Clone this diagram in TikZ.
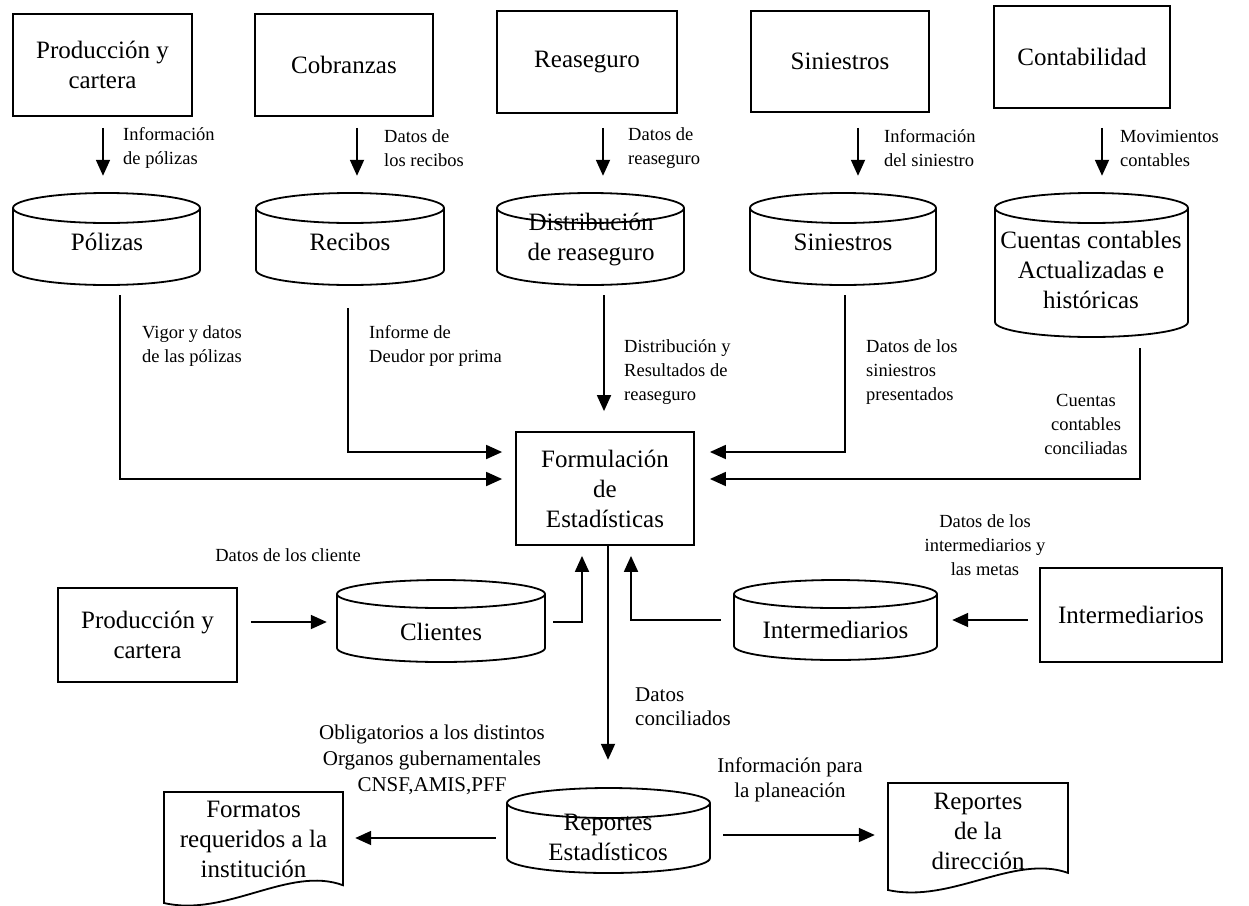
\documentclass[tikz,border=0pt]{standalone}
\usepackage{fontspec}
\setmainfont{Liberation Serif}
\usetikzlibrary{arrows.meta}

% drum (database) symbol: #1 name, #2 left x, #3 right x, #4 top y, #5 bottom y, #6 ellipse half-height
\newcommand\drum[6]{%
  \pgfmathsetmacro\dcx{(#2+#3)/2}%
  \pgfmathsetmacro\drx{(#3-#2)/2}%
  \pgfmathsetmacro\dwd{#3-#2}%
  \pgfmathsetmacro\dht{#5-#4}%
  \pgfmathsetmacro\dmy{(#4+#5)/2}%
  \draw[outline] (\dcx,#4+#6) ellipse [x radius=\drx pt, y radius=#6 pt];
  \draw[outline] (#2,#4+#6) -- (#2,#5-#6)
    arc[start angle=180, end angle=360, x radius=\drx pt, y radius=#6 pt] -- (#3,#4+#6);
  \node[inner sep=0pt, minimum width=\dwd pt, minimum height=\dht pt] (#1) at (\dcx,\dmy) {};
}

% printed-report symbol with a wavy lower edge: #1 name, #2 left x, #3 top y, #4 right x, #5 bottom y
\newcommand\report[5]{%
  \pgfmathsetmacro\rwd{#4-#2}%
  \pgfmathsetmacro\rht{#5-#3}%
  \pgfmathsetmacro\rmx{(#2+#4)/2}%
  \pgfmathsetmacro\rmy{(#3+#5)/2}%
  \draw[outline] (#2,#5) -- (#2,#3) -- (#4,#3) -- (#4,#5-0.16*\rht)
    .. controls (#4-0.3*\rwd,#5-0.34*\rht) and (#2+0.35*\rwd,#5+0.13*\rht) .. (#2,#5) -- cycle;
  \node[inner sep=0pt, minimum width=\rwd pt, minimum height=\rht pt] (#1) at (\rmx,\rmy) {};
}

\begin{document}
\begin{tikzpicture}[x=1pt, y=-1pt,
  outline/.style={line width=1.8pt, black, line join=miter},
  procbox/.style={draw, line width=1.8pt, inner sep=0pt, align=center,
    font=\fontsize{25}{30}\selectfont},
  boxtxt/.style={inner sep=0pt, align=center, font=\fontsize{25}{30}\selectfont},
  lbl/.style={inner sep=0pt, align=left, anchor=west, font=\fontsize{18.5}{24}\selectfont},
  lblc/.style={inner sep=0pt, align=center, font=\fontsize{18.5}{24}\selectfont},
  lblb/.style={inner sep=0pt, align=center, font=\fontsize{21}{26}\selectfont},
  lblbl/.style={inner sep=0pt, align=left, anchor=west, font=\fontsize{21}{24}\selectfont},
  flow/.style={line width=1.8pt, -{Triangle[length=16pt, width=14pt]}},
]
\useasboundingbox (0,0) rectangle (1249,905);

% ---- source departments ----
\node[procbox, minimum width=179pt, minimum height=102pt] (b1) at (102.5,65) {Producción y\\cartera};
\node[procbox, minimum width=178pt, minimum height=102pt] (b2) at (344,65) {Cobranzas};
\node[procbox, minimum width=180pt, minimum height=102pt] (b3) at (587,62) {Reaseguro};
\node[procbox, minimum width=178pt, minimum height=101pt] (b4) at (840,61.5) {Siniestros};
\node[procbox, minimum width=176pt, minimum height=102pt] (b5) at (1082,57) {Contabilidad};

% ---- data stores ----
\drum{c1}{13}{200}{193}{285}{15}
\drum{c2}{256}{444}{193}{285}{15}
\drum{c3}{497}{684}{193}{285}{15}
\drum{c4}{750}{936}{193}{285}{15}
\drum{c5}{995}{1188}{193}{337}{15}
\node[boxtxt] (t1) at (107,242) {Pólizas};
\node[boxtxt] (t2) at (350,242) {Recibos};
\node[boxtxt] (t3) at (591,240) {Distribución\\de reaseguro};
\node[boxtxt] (t4) at (843,242) {Siniestros};
\node[boxtxt] (t5) at (1091,270) {Cuentas contables\\Actualizadas e\\históricas};

% ---- department to store ----
\draw[flow] ([xshift=0.5pt, yshift=-11pt]b1.south) coordinate (a1) -- ([yshift=17pt]c1.north -| a1);
\draw[flow] ([xshift=13pt, yshift=-11pt]b2.south) coordinate (a2) -- ([yshift=17pt]c2.north -| a2);
\draw[flow] ([xshift=16pt, yshift=-14pt]b3.south) coordinate (a3) -- ([yshift=17pt]c3.north -| a3);
\draw[flow] ([xshift=18pt, yshift=-15pt]b4.south) coordinate (a4) -- ([yshift=17pt]c4.north -| a4);
\draw[flow] ([xshift=20pt, yshift=-19pt]b5.south) coordinate (a5) -- ([yshift=17pt]c5.north -| a5);
\node[lbl] (l1) at (123,148) {Información\\de pólizas};
\node[lbl] (l2) at (384,148) {Datos de\\los recibos};
\node[lbl] (l3) at (628,148) {Datos de\\reaseguro};
\node[lbl] (l4) at (884,148) {Información\\del siniestro};
\node[lbl] (l5) at (1120,148) {Movimientos\\contables};

% ---- central process ----
\node[procbox, minimum width=178pt, minimum height=113pt] (F) at (605,488.5) {Formulación\\de\\Estadísticas};

% ---- stores to process ----
\draw[flow] ([xshift=13.5pt, yshift=-10pt]c1.south) |- ([xshift=-13pt, yshift=9.5pt]F.west);
\draw[flow] ([xshift=-2pt, yshift=-23pt]c2.south) |- ([xshift=-13pt, yshift=36.5pt]F.west);
\draw[flow] ([xshift=13.5pt, yshift=-10pt]c3.south) coordinate (c3o) -- ([yshift=20pt]F.north -| c3o);
\draw[flow] ([xshift=2pt, yshift=-10pt]c4.south) |- ([xshift=15pt, yshift=36.5pt]F.east);
\draw[flow] ([xshift=48.5pt, yshift=-11pt]c5.south) |- ([xshift=15pt, yshift=9.5pt]F.east);
\node[lbl] (l6) at (142,346) {Vigor y datos\\de las pólizas};
\node[lbl] (l7) at (369,346) {Informe de\\Deudor por prima};
\node[lbl] (l8) at (624,372) {Distribución y\\Resultados de\\reaseguro};
\node[lbl] (l9) at (866,372) {Datos de los\\siniestros\\presentados};
\node[lblc] (l10) at (1086,424) {Cuentas\\contables\\conciliadas};

% ---- lower feeds ----
\node[procbox, minimum width=179pt, minimum height=94pt] (p2) at (147.5,635) {Producción y\\cartera};
\drum{cl}{337}{545}{580}{662}{14}
\node[boxtxt] (tcl) at (441,632) {Clientes};
\drum{ci}{734}{937}{580}{660}{14}
\node[boxtxt] (tci) at (835.5,630) {Intermediarios};
\node[procbox, minimum width=182pt, minimum height=94pt] (ib) at (1131,615) {Intermediarios};

\draw[flow] ([xshift=13pt, yshift=13pt]p2.east) coordinate (pa) -- ([xshift=-10pt]pa -| cl.west);
\draw[flow] ([xshift=-11pt, yshift=-5pt]ib.west) coordinate (ia) -- ([xshift=15pt]ia -| ci.east);
\draw[flow] ([xshift=8pt, yshift=-1pt]cl.east) -| ([xshift=-23pt, yshift=-10pt]F.south);
\draw[flow] ([xshift=-13pt]ci.west) -| ([xshift=26pt, yshift=-10pt]F.south);
\node[lblc] (l11) at (288,555) {Datos de los cliente};
\node[lblc] (l12) at (985,545) {Datos de los\\intermediarios y\\las metas};

% ---- reports ----
\drum{rp}{507}{710}{788}{873}{15}
\node[boxtxt] (trp) at (608,837) {Reportes\\Estadísticos};
\draw[flow] ([xshift=3pt]F.south) coordinate (fo) -- ([yshift=28pt]fo |- rp.north);
\node[lblbl] (l13) at (635,707) {Datos\\conciliados};

\report{fm}{164}{792}{343}{903}
\node[boxtxt] (tfm) at (253.5,839) {Formatos\\requeridos a la\\institución};
\report{rd}{888}{783}{1068}{890}
\node[boxtxt] (trd) at (978,831) {Reportes\\de la\\dirección};

\draw[flow] ([xshift=-11pt, yshift=-7.5pt]rp.west) coordinate (ra) -- ([xshift=12pt]ra -| fm.east);
\draw[flow] ([xshift=13pt, yshift=-4.5pt]rp.east) coordinate (rb) -- ([xshift=-13pt]rb -| rd.west);
\node[lblb] (l14) at (432,760) {Obligatorios a los distintos\\Organos gubernamentales\\CNSF,AMIS,PFF};
\node[lblb, font=\fontsize{21}{25}\selectfont] (l15) at (790,780) {Información para\\la planeación};

\end{tikzpicture}
\end{document}
